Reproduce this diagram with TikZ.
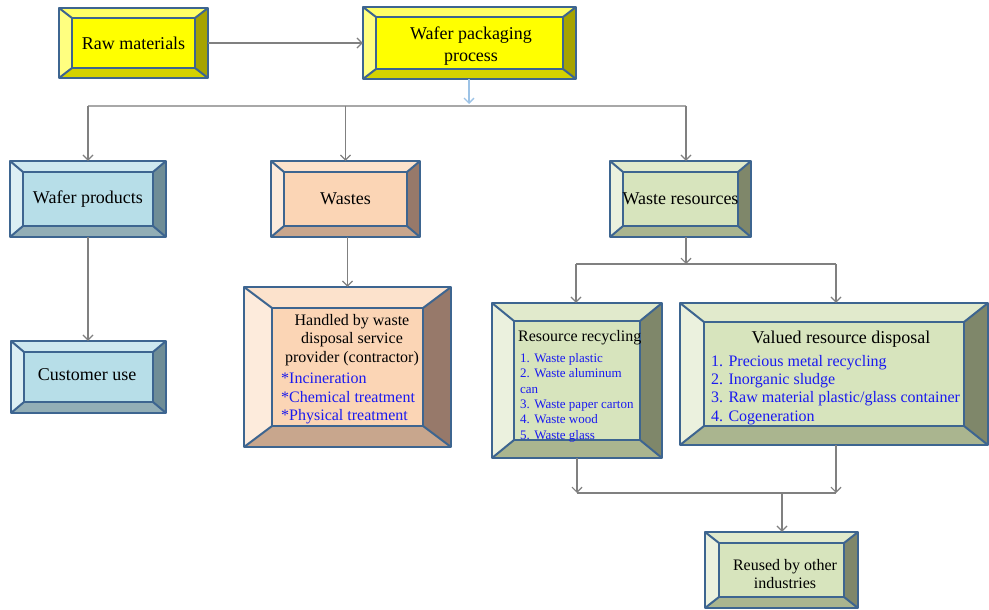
\documentclass[tikz,border=0pt]{standalone}
\usepackage{fontspec}
\setmainfont{Liberation Serif}
\usetikzlibrary{arrows.meta}

% bevel palettes: F face, T top, L left, R right, B bottom
\definecolor{yelF}{HTML}{FFFF00}
\definecolor{yelT}{HTML}{FFFF66}
\definecolor{yelL}{HTML}{FFFF80}
\definecolor{yelR}{HTML}{A6A300}
\definecolor{yelB}{HTML}{D4D200}
\definecolor{bluF}{HTML}{B7DEE8}
\definecolor{bluT}{HTML}{CDE8EF}
\definecolor{bluL}{HTML}{DCEFF4}
\definecolor{bluR}{HTML}{6F8D96}
\definecolor{bluB}{HTML}{92AEB6}
\definecolor{pchF}{HTML}{FBD5B5}
\definecolor{pchT}{HTML}{FCE2CC}
\definecolor{pchL}{HTML}{FDEBDC}
\definecolor{pchR}{HTML}{97796A}
\definecolor{pchB}{HTML}{C8A68D}
\definecolor{grnF}{HTML}{D7E4BD}
\definecolor{grnT}{HTML}{E1EACC}
\definecolor{grnL}{HTML}{EBF1DE}
\definecolor{grnR}{HTML}{7F876A}
\definecolor{grnB}{HTML}{AAB58F}
\definecolor{edgeblue}{HTML}{3D6590}
\definecolor{linegray}{HTML}{808080}
\definecolor{busgray}{HTML}{A8A8A8}
\definecolor{listblue}{HTML}{1A1AF0}
\definecolor{flowblue}{HTML}{9DC3E6}

\tikzset{
  bevedge/.style={draw=edgeblue, line width=2pt, line join=round},
  boxtext/.style={font=\fontsize{18}{22}\selectfont, align=center, text=black},
  arr/.style={draw=linegray, line width=1.4pt, -{Straight Barb[length=5pt,width=10pt,line width=1.2pt]}},
  link/.style={draw=linegray, line width=1.4pt},
  bus/.style={draw=busgray, line width=2.6pt},
  flowarr/.style={draw=flowblue, line width=2.4pt, -{Straight Barb[length=5pt,width=10pt,line width=1.4pt]}},
  listtext/.style={text=listblue, align=left, inner sep=0pt, anchor=north west},
}

% bevelled box: name, palette, x1, y1, x2, y2, bevel dx, bevel dy, text
\newcommand{\bevbox}[9]{%
  \fill[#2F] ({#3+#7},{#4+#8}) rectangle ({#5-#7},{#6-#8});
  \fill[#2T] (#3,#4) -- (#5,#4) -- ({#5-#7},{#4+#8}) -- ({#3+#7},{#4+#8}) -- cycle;
  \fill[#2L] (#3,#4) -- ({#3+#7},{#4+#8}) -- ({#3+#7},{#6-#8}) -- (#3,#6) -- cycle;
  \fill[#2R] (#5,#4) -- (#5,#6) -- ({#5-#7},{#6-#8}) -- ({#5-#7},{#4+#8}) -- cycle;
  \fill[#2B] (#3,#6) -- (#5,#6) -- ({#5-#7},{#6-#8}) -- ({#3+#7},{#6-#8}) -- cycle;
  \draw[bevedge] ({#3+#7},{#4+#8}) rectangle ({#5-#7},{#6-#8});
  \draw[bevedge] (#3,#4) -- ({#3+#7},{#4+#8}) (#5,#4) -- ({#5-#7},{#4+#8})
                 (#3,#6) -- ({#3+#7},{#6-#8}) (#5,#6) -- ({#5-#7},{#6-#8});
  \draw[bevedge] (#3,#4) rectangle (#5,#6);
  \node[boxtext, inner sep=0pt, minimum width={(#5-#3)*1pt}, minimum height={(#6-#4)*1pt}]
    (#1) at ({(#3+#5)/2},{(#4+#6)/2}) {#9};
}

\begin{document}
\begin{tikzpicture}[x=1pt, y=-1pt]
\useasboundingbox (0,0) rectangle (989,610);

% boxes
\bevbox{raw}{yel}{59}{8}{208}{78}{13}{10}{Raw materials}
\bevbox{pack}{yel}{363}{7}{576}{79}{13}{10}{}
\bevbox{prod}{blu}{10}{161}{166}{237}{13}{11}{Wafer products}
\bevbox{cust}{blu}{11}{341}{166}{413}{13}{11}{}
\bevbox{waste}{pch}{271}{161}{420}{237}{13}{11}{Wastes}
\bevbox{res}{grn}{610}{161}{751}{237}{13}{11}{Waste resources}
\bevbox{hand}{pch}{244}{287}{451}{447}{28}{21}{}
\bevbox{recyc}{grn}{492}{303}{662}{458}{22}{18}{}
\bevbox{valued}{grn}{680}{303}{988}{445}{24}{19}{}
\bevbox{reuse}{grn}{705}{532}{858}{608}{14}{11}{}

% texts inside the boxes
\node[boxtext, inner sep=0pt] (packT) at (471,46) {Wafer packaging\\process};
\node[boxtext, inner sep=0pt] (custT) at (87,375) {Customer use};
\node[font=\fontsize{16}{18}\selectfont, align=center, inner sep=0pt] (reuseT) at (785,574)
  {Reused by other\\industries};

\node[font=\fontsize{16}{18.5}\selectfont, align=center, inner sep=0pt] (handT) at (352,340)
  {Handled by waste\\disposal service\\provider (contractor)};
\node[listtext, font=\fontsize{16}{18.5}\selectfont] (handL) at (281,373)
  {*Incineration\\*Chemical treatment\\*Physical treatment};

\node[font=\fontsize{16}{18}\selectfont, anchor=west, inner sep=0pt] (recT) at (518,338) {Resource recycling};
\node[listtext, font=\fontsize{13}{15.4}\selectfont] (recL) at (520,353)
  {1. Waste plastic\\2. Waste aluminum\\can\\3. Waste paper carton\\4. Waste wood\\5. Waste glass};

\node[font=\fontsize{18}{20}\selectfont, inner sep=0pt] (valT) at (841,339) {Valued resource disposal};
\node[listtext, font=\fontsize{16}{18.3}\selectfont] (valL) at (711,355)
  {1. Precious metal recycling\\2. Inorganic sludge\\3. Raw material plastic/glass container\\4. Cogeneration};

% connectors
\draw[arr] (raw.east) -- (pack.west);
\coordinate (busL) at (88,106);
\coordinate (busR) at (686,106);
\draw[bus] (busL) -- (busR);
\draw[flowarr] (pack.south -| 469,0) -- (469,104);
\draw[arr] (busL) -- (busL |- prod.north);
\draw[arr] (waste.south |- busL) -- (waste.north);
\draw[arr] (busR) -- (busR |- res.north);
\draw[arr] (prod.south) -- (prod.south |- cust.north);
\draw[arr] (waste.south -| hand.north) -- (hand.north);

\coordinate (midL) at (576,264);
\coordinate (midR) at (836,264);
\draw[arr] (busR |- res.south) -- (busR |- midL);
\draw[link] (midL) -- (midR);
\draw[arr] (midL) -- (midL |- recyc.north);
\draw[arr] (midR) -- (midR |- valued.north);

\coordinate (lowL) at (577,493);
\coordinate (lowR) at (836,493);
\coordinate (lowM) at (782,493);
\draw[arr] (lowL |- recyc.south) -- (lowL);
\draw[arr] (lowR |- valued.south) -- (lowR);
\draw[link] (lowL) -- (lowR);
\draw[arr] (lowM) -- (lowM |- reuse.north);
\end{tikzpicture}
\end{document}
